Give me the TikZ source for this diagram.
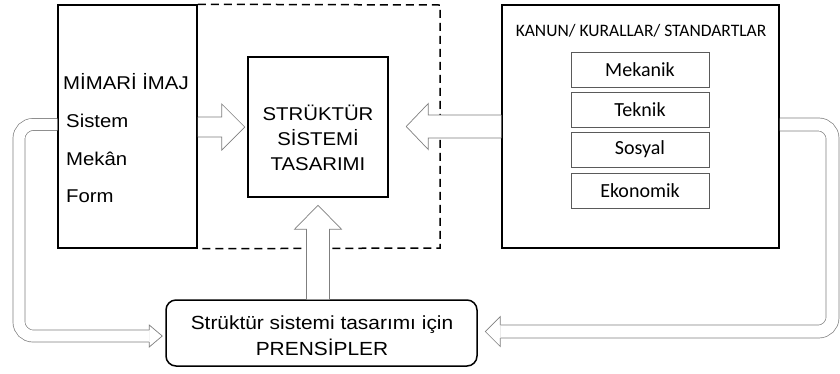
\documentclass[tikz,border=0pt]{standalone}
\usepackage{fontspec}
\setmainfont{Liberation Sans}[FakeStretch=1.1]
\newfontfamily\calfont{Carlito}
\usetikzlibrary{calc}
\definecolor{arrgray}{HTML}{7F7F7F}
\definecolor{boxgray}{HTML}{5A5A5A}
\tikzset{
  mainbox/.style={draw=black, line width=1.5pt, inner sep=0pt},
  corebox/.style={draw=black, line width=2.8pt, inner sep=0pt},
  subbox/.style={draw=boxgray, line width=0.7pt, inner sep=0pt, minimum width=138pt, minimum height=35pt, font=\calfont\fontsize{20}{24}\selectfont},
  princbox/.style={draw=black, line width=1.5pt, rounded corners=10pt, inner sep=0pt},
  frame/.style={draw=black, line width=1.5pt, dash pattern=on 8pt off 5pt},
  shaft/.style={draw=arrgray, line width=0.7pt, double=white, double distance=#1},
  headshape/.style={draw=arrgray, line width=0.7pt, fill=white, line join=miter},
  lefttext/.style={anchor=base west, inner sep=0pt, font=\fontsize{18.5}{22}\selectfont},
  coretext/.style={anchor=base, inner sep=0pt, font=\fontsize{18.5}{25}\selectfont},
  princtext/.style={anchor=base, inner sep=0pt, font=\fontsize{19}{26}\selectfont}
}
% head only: base point, rotation, shaft half width, head half width, head length
\newcommand\arrhead[5]{%
  \draw[headshape, shift={(#1)}, rotate=#2] (0,#3) -- (0,#4) -- (#5,0) -- (0,-#4) -- (0,-#3);}
% whole block arrow: start point, rotation, total length, shaft half width, head half width, head length
\newcommand\blockarrow[6]{%
  \filldraw[headshape, shift={(#1)}, rotate=#2]
    (0,#4) -- ({#3-#6},#4) -- ({#3-#6},#5) -- (#3,0) -- ({#3-#6},-#5) -- ({#3-#6},-#4) -- (0,-#4);}
\begin{document}
\begin{tikzpicture}[x=1pt, y=-1pt]
\useasboundingbox (0,0) rectangle (840,373);
\fill[white] (0,0) rectangle (840,373);

% boxes
\node[mainbox, minimum width=139pt, minimum height=243pt] (imaj) at (127.5,126.5) {};
\node[corebox, minimum width=140pt, minimum height=140pt] (core) at (318,127) {};
\node[mainbox, minimum width=277pt, minimum height=243pt] (rules) at (640.5,126.5) {};
\node[princbox, minimum width=311pt, minimum height=66pt] (prin) at (321.5,333) {};

% dashed frame
\coordinate (fne) at (440,5);
\coordinate (fse) at (440,248);
\draw[frame] (imaj.north east) -- (fne) -- (fse) -- (imaj.south east);

% left texts
\node[lefttext] (t1) at (63,89) {MİMARİ İMAJ};
\node[lefttext] (t2) at (66,127) {Sistem};
\node[lefttext] (t3) at (66,165) {Mekân};
\node[lefttext] (t4) at (66,202) {Form};

% core text
\node[coretext] (c1) at (318,120) {STRÜKTÜR};
\node[coretext] (c2) at (318,145) {SİSTEMİ};
\node[coretext] (c3) at (318,170) {TASARIMI};

% rules texts
\node[inner sep=0pt, anchor=base, font=\calfont\fontsize{17.5}{20}\selectfont] (kh) at (641,36) {KANUN/ KURALLAR/ STANDARTLAR};
\node[subbox] (s1) at (640,69.5) {Mekanik};
\node[subbox] (s2) at (640,109.5) {Teknik};
\node[subbox] (s3) at (640,149.5) {Sosyal};
\node[subbox] (s4) at (640,190.5) {Ekonomik};

% principles text
\node[princtext] (p1) at (322,329) {Strüktür sistemi tasarımı için};
\node[princtext] (p2) at (322,355) {PRENSİPLER};

% arrow: imaj -> core
\coordinate (a1s) at ($(imaj.east)+(0,0.5)$);
\blockarrow{a1s}{0}{47}{10}{23}{23}

% arrow: rules -> core
\coordinate (a2s) at (rules.west);
\blockarrow{a2s}{180}{95}{11.5}{23}{22}

% arrow: prin -> core (up)
\coordinate (a3s) at ($(prin.north)+(-3.5,0)$);
\blockarrow{a3s}{90}{94}{11.5}{23.5}{24}

% loop: imaj -> prin (left)
\coordinate (a4s) at ($(imaj.west)+(0,-2)$);
\coordinate (a4c1) at (19,124.5);
\coordinate (a4c2) at (19,336);
\coordinate (a4h) at ($(prin.west)+(-16,3)$);
\draw[shaft=11.3pt, rounded corners=14pt] (a4s) -- (a4c1) -- (a4c2) -- (a4h);
\arrhead{a4h}{0}{6}{11}{13}

% loop: rules -> prin (right)
\coordinate (a5s) at ($(rules.east)+(0,-2)$);
\coordinate (a5c1) at (832.5,124.5);
\coordinate (a5c2) at (832.5,331.5);
\coordinate (a5h) at ($(prin.east)+(22.5,-1.5)$);
\draw[shaft=12.3pt, rounded corners=14pt] (a5s) -- (a5c1) -- (a5c2) -- (a5h);
\arrhead{a5h}{180}{6.5}{15}{15}

\end{tikzpicture}
\end{document}
